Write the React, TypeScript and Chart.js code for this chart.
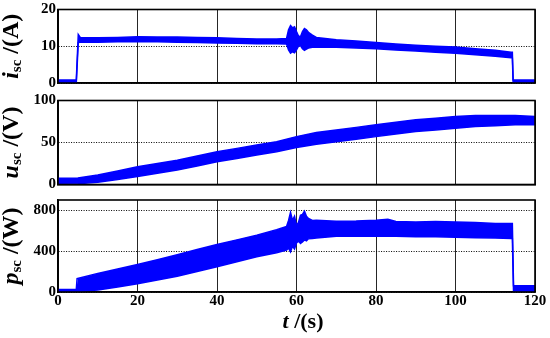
import React, { useEffect, useRef } from 'react';
import { Chart, registerables } from 'chart.js';

Chart.register(...registerables);

// ---- data (envelopes of the noisy traces) ----
const xTicks = [0, 20, 40, 60, 80, 100, 120];

const tIsc = [0, 4.6, 5.1, 5.6, 10, 15, 20, 25, 30, 35, 40, 45, 50, 55, 57.5, 58, 58.5, 59, 59.5, 60, 60.5, 61, 61.5, 62, 62.5, 63, 64, 65, 70, 75, 80, 85, 90, 95, 100, 105, 110, 114, 114.3, 114.5, 120];
const iscUpper = [0.8, 0.8, 13.2, 12.4, 12.3, 12.4, 12.6, 12.5, 12.5, 12.4, 12.3, 12.1, 12.0, 12.0, 12.1, 14.5, 15.6, 15.0, 15.3, 14.0, 12.8, 12.6, 14.0, 14.8, 14.5, 13.8, 13.0, 12.4, 11.8, 11.4, 11.0, 10.6, 10.3, 10.0, 9.8, 9.3, 8.9, 8.4, 8.4, 0.8, 0.8];
const iscLower = [0, 0, 11.0, 11.1, 11.1, 11.2, 11.3, 11.2, 11.1, 11.0, 10.9, 10.8, 10.7, 10.7, 10.6, 9.0, 8.1, 8.5, 8.2, 9.0, 10.0, 10.2, 9.3, 8.9, 9.2, 9.5, 9.7, 9.8, 9.7, 9.5, 9.3, 9.0, 8.7, 8.4, 8.1, 7.7, 7.3, 6.9, 6.8, 0, 0];
const iscTicks = [0, 10, 20];

const tUsc = [0, 5, 10, 15, 20, 25, 30, 35, 40, 45, 50, 55, 60, 65, 70, 75, 80, 85, 90, 95, 100, 105, 110, 115, 120];
const uscUpper = [7.5, 7.7, 11.3, 16, 21, 25, 29, 34, 39, 43, 47, 51, 57, 62, 65, 68, 71, 74, 77, 79, 81, 82, 82, 82, 81];
const uscLower = [0.5, 1.0, 2.6, 6, 9.5, 13.5, 17.3, 22, 27, 31, 35, 39, 44, 48, 51, 54, 57, 60, 63, 65, 67, 69, 70, 71, 71];
const uscTicks = [0, 50, 100];

const tPsc = [0, 4.6, 4.8, 5, 10, 15, 20, 25, 30, 35, 40, 45, 50, 55, 57.5, 58, 58.5, 59, 59.5, 60, 60.5, 61, 61.5, 62, 62.5, 63, 64, 65, 70, 75, 80, 83, 85, 90, 95, 100, 105, 110, 114, 114.3, 114.6, 120];
const pscUpper = [25, 25, 130, 130, 182, 225, 268, 315, 365, 415, 465, 510, 556, 610, 640, 700, 778, 700, 740, 650, 680, 751, 760, 790, 740, 720, 700, 702, 693, 695, 702, 712, 690, 686, 690, 686, 680, 670, 670, 670, 60, 60];
const pscLower = [0, 0, 5, 5, 20, 50, 80, 118, 155, 200, 247, 295, 345, 385, 410, 430, 393, 450, 420, 480, 500, 475, 490, 510, 500, 520, 524, 528, 545, 545, 545, 545, 545, 540, 540, 535, 530, 528, 524, 524, 0, 0];
const pscTicks = [0, 400, 800];

// ---- styling ----
const BLUE = 'rgb(0,0,255)';
const SERIF = '"Liberation Serif", "Times New Roman", serif';
const tickFont = { family: SERIF, size: 15, weight: 'bold' as const, lineHeight: 1 };

type PanelDef = {
  t: number[];
  upper: number[];
  lower: number[];
  min: number;
  max: number;
  yTicks: number[];
  top: number;
  bottom: number;
  showX: boolean;
  main: string;
  sub: string;
  unit: string;
};

const panels: PanelDef[] = [
  { t: tIsc, upper: iscUpper, lower: iscLower, min: 0, max: 20, yTicks: iscTicks, top: 8.5, bottom: 83, showX: false, main: 'i', sub: 'sc', unit: ' /(A)' },
  { t: tUsc, upper: uscUpper, lower: uscLower, min: 0, max: 100, yTicks: uscTicks, top: 100.5, bottom: 184.5, showX: false, main: 'u', sub: 'sc', unit: ' /(V)' },
  { t: tPsc, upper: pscUpper, lower: pscLower, min: 0, max: 900, yTicks: pscTicks, top: 200, bottom: 292, showX: true, main: 'p', sub: 'sc', unit: ' /(W)' },
];

const W = 550;
const H = 338;

function drawMixed(ctx: CanvasRenderingContext2D, parts: { text: string; font: string; dy: number }[], cx: number) {
  let total = 0;
  const widths = parts.map((p) => {
    ctx.font = p.font;
    const w = ctx.measureText(p.text).width;
    total += w;
    return w;
  });
  let x = cx - total / 2;
  parts.forEach((p, i) => {
    ctx.font = p.font;
    ctx.fillText(p.text, x, p.dy);
    x += widths[i];
  });
}

function makeConfig(p: PanelDef): any {
  const framePlugin = {
    id: 'frameAndTitles',
    afterDraw(chart: any) {
      const { ctx, chartArea } = chart;
      ctx.save();
      ctx.strokeStyle = '#000';
      ctx.lineWidth = 1.6;
      ctx.strokeRect(chartArea.left, chartArea.top, chartArea.right - chartArea.left, chartArea.bottom - chartArea.top);
      // y title
      const yc = (chartArea.top + chartArea.bottom) / 2;
      ctx.fillStyle = '#000';
      ctx.textBaseline = 'alphabetic';
      ctx.translate(18, yc);
      ctx.rotate(-Math.PI / 2);
      drawMixed(ctx, [
        { text: p.main, font: `italic bold 24px ${SERIF}`, dy: 0 },
        { text: p.sub, font: `bold 15px ${SERIF}`, dy: 3 },
        { text: p.unit, font: `bold 24px ${SERIF}`, dy: 0 },
      ], 0);
      ctx.restore();
      if (p.showX) {
        ctx.save();
        ctx.fillStyle = '#000';
        ctx.textBaseline = 'alphabetic';
        ctx.translate(303, 328);
        drawMixed(ctx, [
          { text: 't', font: `italic bold 22px ${SERIF}`, dy: 0 },
          { text: ' /(s)', font: `bold 22px ${SERIF}`, dy: 0 },
        ], 0);
        ctx.restore();
      }
    },
  };

  const xAxisHeight = p.showX ? 18 : 0;
  return {
    type: 'line',
    data: {
      datasets: [
        {
          data: p.t.map((x, i) => ({ x, y: p.upper[i] })),
          borderColor: BLUE,
          backgroundColor: BLUE,
          borderWidth: 1.5,
          pointRadius: 0,
          tension: 0,
          fill: false,
        },
        {
          data: p.t.map((x, i) => ({ x, y: p.lower[i] })),
          borderColor: BLUE,
          backgroundColor: BLUE,
          borderWidth: 1.5,
          pointRadius: 0,
          tension: 0,
          fill: '-1',
        },
      ],
    },
    options: {
      animation: false,
      responsive: false,
      events: [],
      layout: { padding: { left: 0, right: 15, top: p.top, bottom: H - p.bottom - xAxisHeight } },
      plugins: { legend: { display: false }, tooltip: { enabled: false }, title: { display: false } },
      scales: {
        x: {
          type: 'linear',
          min: 0,
          max: 120,
          afterBuildTicks: (s: any) => {
            s.ticks = xTicks.map((v) => ({ value: v }));
          },
          afterFit: (s: any) => {
            s.height = xAxisHeight;
          },
          ticks: { display: p.showX, font: tickFont, color: '#000', padding: 2, maxRotation: 0, autoSkip: false },
          grid: { color: 'rgba(0,0,0,0.85)', lineWidth: 1, drawTicks: false },
          border: { display: true, color: '#000', width: 1.6 },
        },
        y: {
          min: p.min,
          max: p.max,
          afterBuildTicks: (s: any) => {
            s.ticks = p.yTicks.map((v) => ({ value: v }));
          },
          afterFit: (s: any) => {
            s.width = 58;
          },
          ticks: { font: tickFont, color: '#000', padding: 2 },
          grid: { color: '#000', lineWidth: 1, drawTicks: false },
          border: { display: true, color: '#000', width: 1.6, dash: [1, 1.5] },
        },
      },
    },
    plugins: [framePlugin],
  };
}

function Panel({ def }: { def: PanelDef }) {
  const ref = useRef<HTMLCanvasElement | null>(null);
  useEffect(() => {
    if (!ref.current) return;
    const chart = new Chart(ref.current, makeConfig(def));
    return () => chart.destroy();
  }, [def]);
  return (
    <canvas
      ref={ref}
      width={W}
      height={H}
      style={{ position: 'absolute', left: 0, top: 0, width: W, height: H }}
    />
  );
}

export default function App() {
  return (
    <div style={{ position: 'fixed', left: 0, top: 0, width: W, height: H, background: '#fff', overflow: 'hidden' }}>
      {panels.map((p, i) => (
        <Panel key={i} def={p} />
      ))}
    </div>
  );
}
